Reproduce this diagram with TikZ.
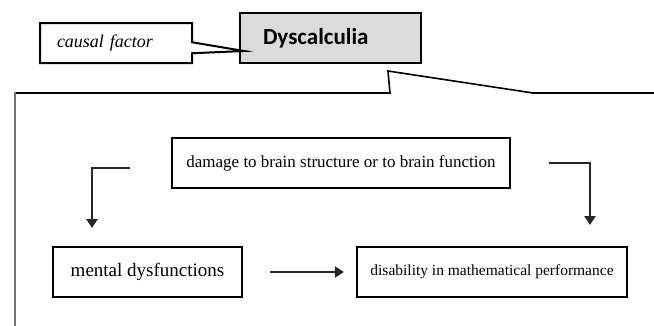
\documentclass[tikz,border=0pt]{standalone}
\usepackage{fontspec}
\setmainfont{Liberation Serif}
\newfontfamily\calibrifont{Carlito}
\usetikzlibrary{arrows.meta,shapes.callouts}

\begin{document}
\begin{tikzpicture}[x=1pt,y=-1pt]
\tikzstyle{box}=[rectangle,draw=black,line width=2.2pt,fill=white,inner sep=0pt,minimum height=50pt]
\tikzstyle{flow}=[line width=2.3pt,draw=black!85,-{Triangle[width=11pt,length=9pt]}]
\useasboundingbox (0,0) rectangle (654,325);
% big callout frame
\draw[line width=1.6pt] (15,93) -- (390,93) -- (388,71) -- (533,93) -- (660,93);
\draw[black!55,line width=2.8pt] (15,92) -- (15,330);
\node[box,fill=black!14,line width=1.6pt,minimum width=181pt,text width=135pt,inner xsep=23pt,align=left,
  font=\calibrifont\bfseries\fontsize{23}{26}\selectfont] (dys) at (330.5,38) {Dyscalculia};
\coordinate (tip) at (244,51);
\node[rectangle callout,draw=black,line width=2pt,fill=white,minimum width=152pt,minimum height=40pt,
  inner sep=0pt,inner xsep=17pt,text width=118pt,align=left,callout absolute pointer={(tip)},
  callout pointer width=11pt,font=\itshape\fontsize{18}{20}\selectfont] (cause) at (116,43) {causal factor};
\foreach \name/\point/\bw/\fs/\txt in {
	dmg/{341,163}/338/17/damage to brain structure or to brain function,
	ment/{147.5,272}/189/19/mental dysfunctions,
	dis/{492,272}/270/15.5/disability in mathematical performance}
	\node[box,minimum width=\bw pt,font=\fontsize{\fs}{\fs}\selectfont] (\name) at (\point) {\txt};
\coordinate (l1) at (130,168);
\coordinate (l2) at (92,228);
\coordinate (r1) at (549,163);
\coordinate (r2) at (590,225);
\draw[flow] (l1) -| (l2);
\draw[flow] (r1) -| (r2);
\draw[flow] ([xshift=27pt]ment.east) -- ([xshift=-12pt]dis.west);
\end{tikzpicture}
\end{document}
